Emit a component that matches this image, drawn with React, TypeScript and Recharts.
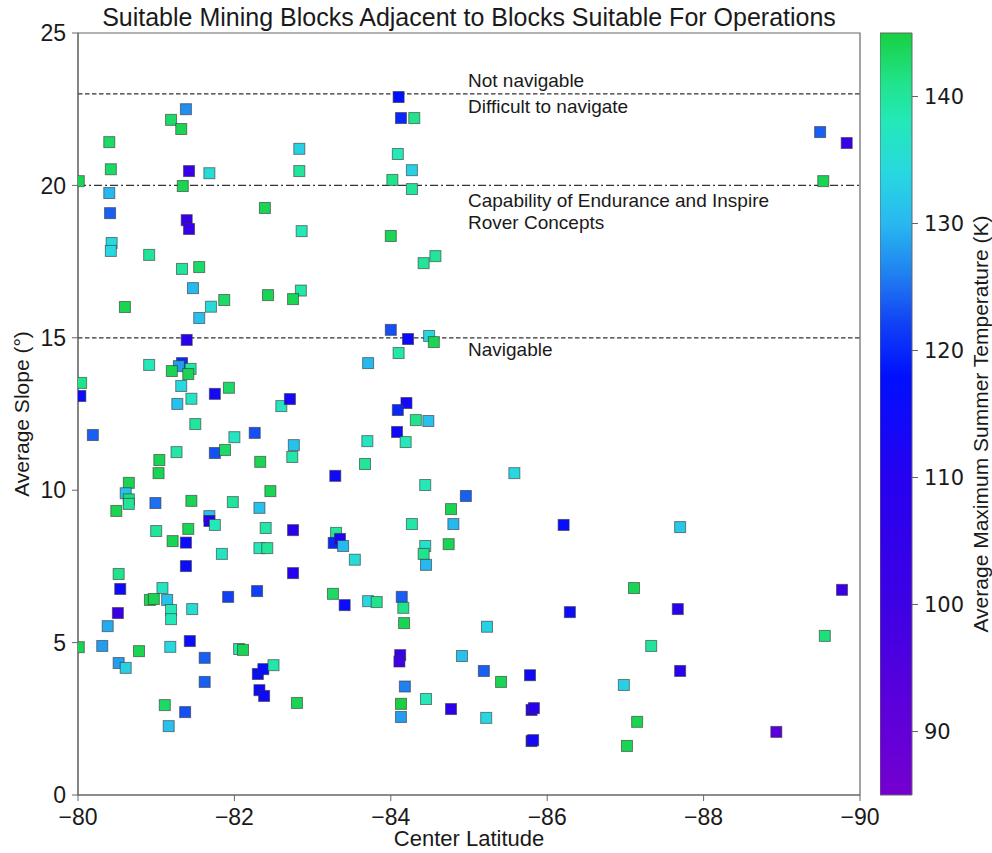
import {
  ScatterChart,
  Scatter,
  BarChart,
  Bar,
  XAxis,
  YAxis,
  ReferenceLine,
  ReferenceArea,
} from 'recharts';

// Block center latitude (deg)
const latitude = [
  -81.38, -81.19, -81.32, -80.4, -82.83, -80.42, -81.42, -81.68, -82.83, -80.01,
  -81.34, -80.4, -80.41, -82.39, -81.39, -81.42, -82.86, -80.43, -80.42, -80.91,
  -81.33, -81.55, -81.47, -82.85, -80.6, -81.7, -81.87, -81.55, -82.43, -82.75,
  -81.39, -80.91, -81.33, -81.29, -81.44, -81.2, -81.41, -80.04, -81.32, -80.03,
  -81.75, -81.93, -81.45, -81.27, -82.6, -82.71, -81.5, -80.19, -82.26, -82.0,
  -82.76, -81.26, -81.75, -81.88, -81.04, -82.74, -82.33, -81.03, -83.29, -80.65,
  -80.61, -80.65, -80.65, -80.49, -80.99, -81.45, -81.98, -82.46, -82.32, -81.68,
  -81.68, -81.75, -81.0, -81.41, -82.4, -82.75, -83.3, -81.21, -81.38, -81.84,
  -82.32, -82.42, -83.27, -83.35, -83.39, -80.52, -80.54, -80.51, -80.38, -80.31,
  -80.01, -80.52, -80.61, -80.78, -81.08, -80.92, -80.97, -81.14, -81.19, -81.19,
  -81.46, -81.18, -81.43, -81.62, -81.62, -81.38, -81.92, -82.29, -82.75, -83.26,
  -82.06, -82.11, -82.3, -82.37, -82.5, -82.32, -82.38, -82.8, -81.11, -81.37,
  -81.16, -84.0, -84.22, -84.49, -84.55, -84.1, -83.71, -84.2, -84.09, -84.32,
  -84.48, -84.08, -84.19, -83.7, -83.67, -85.58, -84.44, -84.96, -84.77, -84.27,
  -84.8, -86.21, -84.44, -84.74, -84.42, -84.45, -83.54, -83.41, -83.71, -83.82,
  -84.14, -84.16, -84.17, -85.23, -86.29, -84.12, -84.11, -84.91, -85.19, -85.41,
  -85.78, -84.18, -84.45, -84.13, -84.13, -84.77, -85.22, -85.8, -85.83, -85.8,
  -85.82, -87.7, -87.11, -87.67, -87.33, -87.7, -86.98, -87.15, -87.02, -88.93,
  -89.77, -89.55, -89.49, -89.83, -89.53, -84.1, -84.13, -84.3, -84.09, -84.27,
  -84.02, -84.27, -84.0, -84.42, -84.57,
];

// Average slope of each block (deg)
const slope = [
  22.5, 22.15, 21.85, 21.42, 21.2, 20.53, 20.47, 20.4, 20.47, 20.14,
  19.98, 19.75, 19.09, 19.26, 18.86, 18.57, 18.5, 18.11, 17.85, 17.72,
  17.26, 17.32, 16.63, 16.55, 16.01, 16.02, 16.24, 15.65, 16.4, 16.27,
  14.93, 14.11, 14.17, 14.07, 13.98, 13.91, 13.81, 13.52, 13.42, 13.09,
  13.16, 13.36, 13.0, 12.83, 12.76, 12.99, 12.17, 11.81, 11.88, 11.74,
  11.48, 11.25, 11.22, 11.32, 10.99, 11.09, 10.93, 10.56, 10.47, 10.24,
  9.9, 9.7, 9.55, 9.32, 9.58, 9.65, 9.61, 9.97, 9.42, 9.15,
  8.99, 8.86, 8.66, 8.73, 8.76, 8.69, 8.6, 8.33, 8.28, 7.91,
  8.1, 8.1, 8.27, 8.4, 8.17, 7.25, 6.76, 5.97, 5.54, 4.89,
  4.85, 4.33, 4.17, 4.72, 6.79, 6.4, 6.43, 6.4, 6.07, 5.77,
  6.1, 4.86, 5.05, 4.5, 3.71, 7.51, 6.5, 6.69, 7.28, 6.6,
  4.79, 4.76, 3.97, 4.13, 4.26, 3.44, 3.25, 3.02, 2.95, 2.72,
  2.26, 15.26, 14.96, 15.06, 14.86, 14.5, 14.17, 12.86, 12.63, 12.3,
  12.27, 11.91, 11.58, 11.61, 10.86, 10.56, 10.17, 9.81, 9.38, 8.89,
  8.89, 8.86, 8.17, 8.23, 7.91, 7.55, 7.72, 6.23, 6.36, 6.33,
  6.5, 6.14, 5.64, 5.52, 6.0, 4.59, 4.38, 4.56, 4.07, 3.71,
  3.93, 3.56, 3.15, 2.99, 2.56, 2.82, 2.53, 2.79, 2.85, 1.77,
  1.8, 8.79, 6.79, 6.1, 4.89, 4.07, 3.61, 2.4, 1.61, 2.07,
  6.73, 5.22, 21.75, 21.39, 20.14, 22.9, 22.21, 22.21, 21.03, 20.5,
  20.18, 19.88, 18.34, 17.45, 17.68,
];

// Average maximum summer temperature (K)
const temperature = [
  127, 143, 144, 143, 133, 143, 103, 135, 140, 144,
  144, 130, 124, 144, 103, 103, 138, 134, 134, 140,
  140, 143, 130, 139, 144, 135, 143, 131, 144, 144,
  108, 138, 120, 128, 139, 144, 144, 141, 134, 116,
  114, 143, 137, 131, 137, 113, 140, 124, 123, 137,
  131, 139, 123, 143, 144, 139, 144, 144, 115, 144,
  131, 142, 140, 144, 125, 144, 140, 144, 131, 131,
  108, 138, 140, 144, 139, 108, 140, 144, 116, 137,
  138, 140, 120, 112, 130, 141, 115, 102, 129, 128,
  144, 128, 133, 144, 137, 144, 144, 131, 138, 138,
  135, 134, 116, 124, 124, 116, 122, 122, 110, 143,
  139, 144, 116, 117, 139, 115, 115, 144, 143, 123,
  131, 123, 115, 134, 144, 139, 130, 114, 120, 141,
  131, 115, 138, 137, 140, 134, 138, 124, 144, 139,
  130, 117, 136, 144, 141, 130, 135, 116, 134, 141,
  124, 141, 144, 133, 116, 104, 100, 131, 124, 144,
  115, 126, 138, 145, 128, 107, 134, 108, 108, 114,
  114, 132, 144, 108, 140, 108, 133, 144, 144, 92,
  102, 142, 124, 102, 144, 118, 120, 141, 138, 133,
  141, 140, 144, 140, 140,
];

const xTicks = [-80, -82, -84, -86, -88, -90];
const yTicks = [0, 5, 10, 15, 20, 25];
const tempTicks = [90, 100, 110, 120, 130, 140];
const TEMP_MIN = 85;
const TEMP_MAX = 145;

// colour stops for the temperature colormap
const colorStops: [number, number[]][] = [
  [85, [116, 0, 208]],
  [90, [98, 0, 216]],
  [100, [62, 0, 228]],
  [110, [38, 0, 240]],
  [118, [0, 16, 255]],
  [122, [16, 64, 245]],
  [126, [32, 128, 240]],
  [130, [40, 184, 240]],
  [134, [40, 216, 224]],
  [138, [36, 232, 184]],
  [141, [32, 228, 140]],
  [145, [24, 208, 64]],
];

function tempColor(t: number) {
  const v = Math.max(TEMP_MIN, Math.min(TEMP_MAX, t));
  for (let i = 0; i < colorStops.length - 1; i++) {
    const [t0, c0] = colorStops[i];
    const [t1, c1] = colorStops[i + 1];
    if (v >= t0 && v <= t1) {
      const f = (v - t0) / (t1 - t0);
      const c = c0.map((a, k) => Math.round(a + (c1[k] - a) * f));
      return `rgb(${c[0]},${c[1]},${c[2]})`;
    }
  }
  return 'rgb(24,208,64)';
}

const points = latitude.map((lat, i) => ({ lat, slope: slope[i], temp: temperature[i] }));
// single range bar used as the colorbar body
const colorbarData = [{ name: 'temp', range: [TEMP_MIN, TEMP_MAX] }];
const FONT = '"Liberation Sans", Arial, sans-serif';

const SquareMarker = (props: any) => {
  const { cx, cy, payload } = props;
  if (cx == null || cy == null) return null;
  return (
    <rect
      x={cx - 5.5}
      y={cy - 5.5}
      width={11}
      height={11}
      fill={tempColor(payload.temp)}
      stroke="#333"
      strokeOpacity={0.6}
      strokeWidth={1}
    />
  );
};

// text placed next to a horizontal reference line
const lineLabel = (lines: [string, number][]) => (props: any) => {
  const { viewBox } = props;
  return (
    <g>
      {lines.map(([txt, dy]) => (
        <text key={txt} x={viewBox.x + 390} y={viewBox.y + dy} fontSize={19} fontFamily={FONT} fill="#1a1a1a">
          {txt}
        </text>
      ))}
    </g>
  );
};

export default function App() {
  return (
    <div style={{ position: 'absolute', left: 0, top: 0, width: 992, height: 853, background: '#fff' }}>
      <ScatterChart width={992} height={853} margin={{ top: 33, right: 132, bottom: 0, left: 18 }}>
        <XAxis
          type="number"
          dataKey="lat"
          domain={[-90, -80]}
          reversed
          ticks={xTicks}
          allowDataOverflow
          height={58}
          tickSize={6}
          tickMargin={8}
          tickFormatter={(v: number) => `\u2212${Math.abs(v)}`}
          tick={{ fontSize: 23, fill: '#1a1a1a', fontFamily: FONT }}
          stroke="#666"
        />
        <YAxis
          type="number"
          dataKey="slope"
          domain={[0, 25]}
          ticks={yTicks}
          allowDataOverflow
          width={60}
          tickSize={6}
          tickMargin={6}
          tick={{ fontSize: 23, fill: '#1a1a1a', fontFamily: FONT }}
          stroke="#666"
        />
        <ReferenceArea x1={-90} x2={-80} y1={0} y2={25} fill="none" stroke="#666" strokeWidth={1.2} />
        <ReferenceLine
          y={23}
          stroke="#333"
          strokeWidth={1.2}
          strokeDasharray="4.5 2.5"
          label={lineLabel([['Not navigable', -7], ['Difficult to navigate', 19]])}
        />
        <ReferenceLine
          y={20}
          stroke="#333"
          strokeWidth={1.2}
          strokeDasharray="8 3 2 3"
          label={lineLabel([['Capability of Endurance and Inspire', 22], ['Rover Concepts', 44]])}
        />
        <ReferenceLine
          y={15}
          stroke="#333"
          strokeWidth={1.2}
          strokeDasharray="4.5 2.5"
          label={lineLabel([['Navigable', 18]])}
        />
        <Scatter data={points} shape={SquareMarker} isAnimationActive={false} />
      </ScatterChart>

      {/* colorbar */}
      <div style={{ position: 'absolute', left: 880, top: 0 }}>
        <BarChart
          width={112}
          height={853}
          data={colorbarData}
          margin={{ top: 33, right: 0, bottom: 58, left: 0 }}
          barCategoryGap={0}
        >
          <defs>
            <linearGradient id="tempGradient" x1="0" y1="1" x2="0" y2="0">
              {colorStops.map(([t, c]) => (
                <stop
                  key={t}
                  offset={`${((t - TEMP_MIN) / (TEMP_MAX - TEMP_MIN)) * 100}%`}
                  stopColor={`rgb(${c[0]},${c[1]},${c[2]})`}
                />
              ))}
            </linearGradient>
          </defs>
          <XAxis dataKey="name" hide />
          <YAxis
            type="number"
            orientation="right"
            domain={[TEMP_MIN, TEMP_MAX]}
            ticks={tempTicks}
            width={80}
            axisLine={false}
            tickSize={6}
            tickMargin={6}
            stroke="#666"
            tick={{ fontSize: 21, fill: '#1a1a1a', fontFamily: '"DejaVu Sans", sans-serif' }}
          />
          <Bar dataKey="range" fill="url(#tempGradient)" stroke="#666" strokeWidth={1} isAnimationActive={false} />
        </BarChart>
      </div>

      {/* title and axis titles */}
      <svg width={992} height={853} style={{ position: 'absolute', left: 0, top: 0, pointerEvents: 'none' }}>
        <text x={469} y={26} textAnchor="middle" fontSize={25} fontFamily={FONT} fill="#1a1a1a">
          Suitable Mining Blocks Adjacent to Blocks Suitable For Operations
        </text>
        <text x={469} y={846} textAnchor="middle" fontSize={22} fontFamily={FONT} fill="#1a1a1a">
          Center Latitude
        </text>
        <text x={29} y={414} textAnchor="middle" fontSize={21} fontFamily={FONT} fill="#1a1a1a" transform="rotate(-90 29 414)">
          Average Slope (°)
        </text>
        <text x={988} y={424} textAnchor="middle" fontSize={21} fontFamily={FONT} fill="#1a1a1a" transform="rotate(-90 988 424)">
          Average Maximum Summer Temperature (K)
        </text>
      </svg>
    </div>
  );
}
